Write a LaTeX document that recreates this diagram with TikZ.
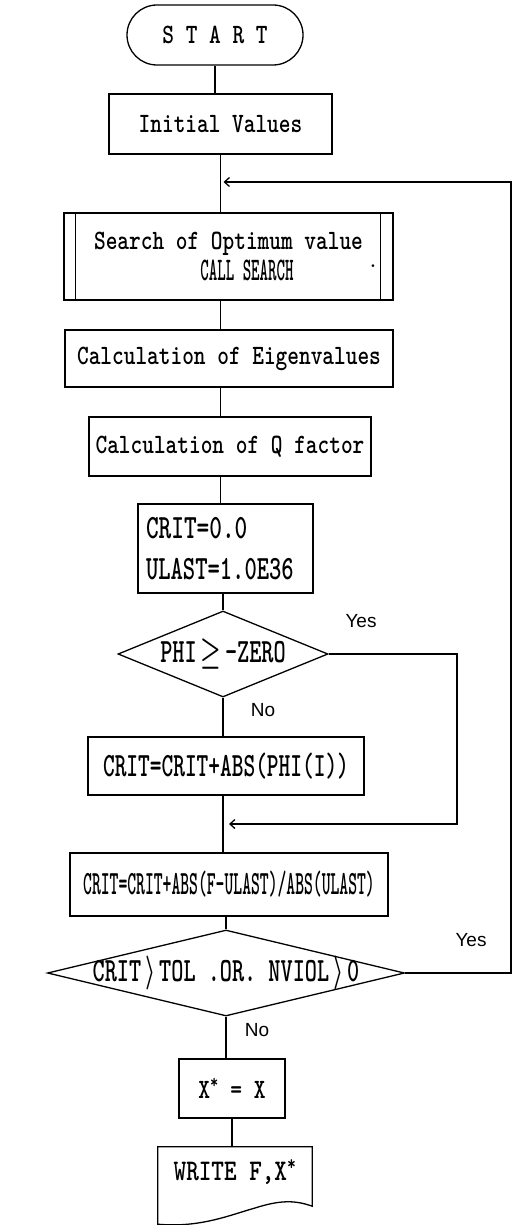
\RequirePackage{fix-cm}
\documentclass[tikz,border=0pt]{standalone}
\usepackage{amsmath}
\usepackage{fontspec}
\usepackage{graphicx}
\usetikzlibrary{shapes.geometric,arrows.meta}
\newfontfamily\sansf{Liberation Sans}
\newcommand\mt[3]{\scalebox{#1}[1]{\fontsize{#2}{#2}\selectfont\ttfamily\bfseries #3}}
\begin{document}
\begin{tikzpicture}[x=1pt,y=-1pt,
  pbox/.style={draw, line width=1.3pt, rectangle, inner sep=0pt, align=center},
  dbox/.style={draw, line width=1.3pt, diamond, inner sep=0pt},
  conn/.style={line width=1.3pt},
  conarr/.style={line width=1.3pt, -{Straight Barb[length=5pt,width=9pt]}},
  lbl/.style={font=\sansf\fontsize{19}{19}\selectfont, inner sep=0pt}]
\useasboundingbox (0,0) rectangle (516,1225);

\node[pbox, rounded corners=30pt, minimum width=176pt, minimum height=60pt] (start) at (215,35) {\mt{0.795}{28}{S T A R T}};
\node[pbox, minimum width=223pt, minimum height=60pt] (init) at (220.5,124) {\mt{0.795}{28}{Initial Values}};
\node[pbox, minimum width=329pt, minimum height=87pt, font=\fontsize{28}{31}\selectfont] (search) at (228.5,256.5) {\mt{0.795}{28}{Search of Optimum value}\\\hspace*{37pt}\mt{0.49}{33}{CALL SEARCH}};
\draw[conn] ([xshift=12pt]search.north west) -- ([xshift=12pt]search.south west);
\draw[conn] ([xshift=-13pt]search.north east) -- ([xshift=-13pt]search.south east);
\node[inner sep=0pt, font=\ttfamily\fontsize{24}{24}\selectfont] (dot) at (373,266) {.};
\node[pbox, minimum width=328pt, minimum height=57pt] (eigen) at (229,358.5) {\mt{0.795}{28}{Calculation of Eigenvalues}};
\node[pbox, minimum width=282pt, minimum height=59pt] (qf) at (230,446.5) {\mt{0.795}{28}{Calculation of Q factor}};
\node[pbox, align=left, inner xsep=8pt, text width=159pt, minimum height=89pt, font=\fontsize{34}{41}\selectfont] (crit0) at (225.5,548.5) {\mt{0.71}{34}{CRIT=0.0}\\\mt{0.69}{34}{ULAST=1.0E36}};
\node[dbox, minimum width=210pt, minimum height=86pt] (d1) at (223,654) {\makebox[0pt]{\mt{0.68}{34}{PHI$\,\boldsymbol{\geq}\,$-ZERO}}};
\node[pbox, minimum width=276pt, minimum height=58pt] (phi) at (226,766) {\mt{0.656}{34}{CRIT=CRIT+ABS(PHI(I))}};
\node[pbox, minimum width=318pt, minimum height=63pt] (crit) at (229,884.5) {\mt{0.495}{34}{CRIT=CRIT+ABS(F-ULAST)/ABS(ULAST)}};
\node[dbox, minimum width=357pt, minimum height=86pt] (d2) at (226,973) {\makebox[0pt]{\mt{0.68}{34}{CRIT$\,\boldsymbol{\rangle}\,$TOL .OR. NVIOL$\,\boldsymbol{\rangle}\,$0}}};
\node[pbox, minimum width=106pt, minimum height=59pt] (xstar) at (232,1088.5) {\mt{0.8}{28}{X\textsuperscript{*} = X}};
\node[inner sep=0pt, minimum width=154pt, minimum height=50pt] (write) at (235,1172) {\mt{0.8}{30}{WRITE F,X\textsuperscript{*}}};
\draw[conn] (write.north west) -- (write.north east) -- ([yshift=-9pt]write.south east)
  .. controls (295,1200) and (280,1200) .. (255,1208)
  .. controls (230,1215) and (200,1228) .. ([yshift=-27pt]write.south west) -- cycle;

% main column
\draw[conn] (start.south) -- (start.south |- init.north);
\draw[conn] (init.south) -- (init.south |- search.north);
\draw[conn] (search.south -| init.south) -- (eigen.north -| init.south);
\draw[conn] (eigen.south -| init.south) -- (qf.north -| init.south);
\draw[conn] (qf.south -| init.south) -- (crit0.north -| init.south);
\draw[conn] (crit0.south -| d1.north) -- (d1.north);
\draw[conn] (d1.south) -- (d1.south |- phi.north);
\draw[conn] (phi.south -| d1.south) -- (crit.north -| d1.south);
\draw[conn] (crit.south -| d2.north) -- (d2.north);
\draw[conn] (d2.south) -- (d2.south |- xstar.north);
\draw[conn] (xstar.south) -- (xstar.south |- write.north);

% loops
\coordinate (loopR) at (511,182);
\coordinate (m1) at (init.south |- loopR);
\draw[conarr, shorten >=3pt] (d2.east) -| (loopR) -- (m1);
\coordinate (yesR) at (457,824);
\coordinate (m2) at (d1.south |- yesR);
\draw[conarr, shorten >=6pt] (d1.east) -| (yesR) -- (m2);

\node[lbl] (yes1) at (361,621) {Yes};
\node[lbl] (no1) at (263,710) {No};
\node[lbl] (yes2) at (471,940) {Yes};
\node[lbl] (no2) at (257,1030) {No};
\end{tikzpicture}
\end{document}
